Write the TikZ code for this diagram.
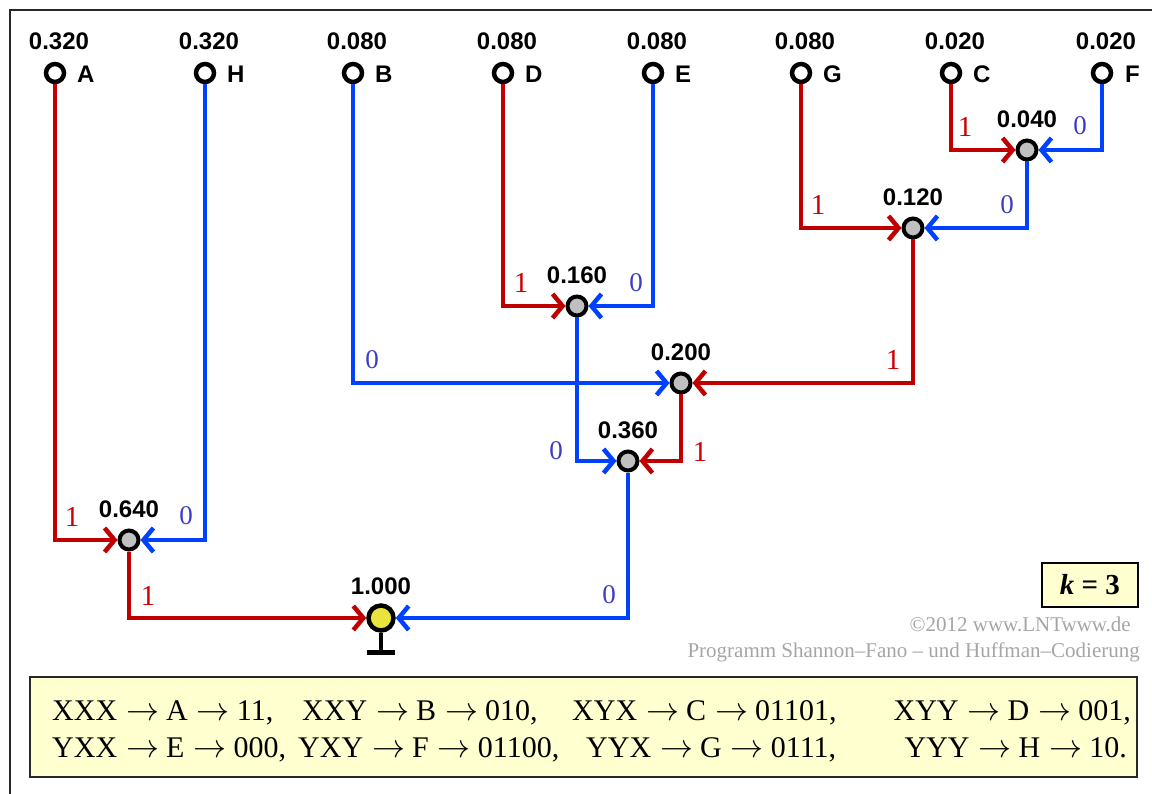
\documentclass[tikz,border=0pt]{standalone}
\usepackage{fontspec}
\setmainfont{Liberation Serif}
\newfontfamily\labfont{Liberation Sans}
\usetikzlibrary{arrows.meta}
\definecolor{edgered}{RGB}{192,0,0}
\definecolor{edgeblue}{RGB}{0,64,255}
\definecolor{lblred}{RGB}{204,0,0}
\definecolor{lblblue}{RGB}{60,60,200}
\definecolor{boxyellow}{RGB}{255,255,208}
\definecolor{rootyellow}{RGB}{232,228,60}
\definecolor{copygray}{RGB}{165,165,165}
\definecolor{innergray}{RGB}{192,192,192}
\definecolor{framegray}{RGB}{40,40,40}
\newcommand\codearrow{\hspace{9pt}\resizebox{33pt}{!}{$\rightarrow$}\hspace{7pt}}
\begin{document}
\begin{tikzpicture}[x=1pt,y=-1pt,
  leaf/.style={circle,draw=black,line width=4.5pt,fill=white,minimum size=18pt,inner sep=0pt},
  innernode/.style={circle,draw=black,line width=4pt,fill=innergray,minimum size=19pt,inner sep=0pt},
  rootnode/.style={circle,draw=black,line width=4.5pt,fill=rootyellow,minimum size=25pt,inner sep=0pt},
  prob/.style={font=\labfont\bfseries\fontsize{24}{28}\selectfont,inner sep=0pt},
  sym/.style={font=\labfont\bfseries\fontsize{24}{28}\selectfont,inner sep=0pt,anchor=west},
  onelbl/.style={text=lblred,font=\fontsize{29}{32}\selectfont,inner sep=0pt},
  zerolbl/.style={text=lblblue,font=\fontsize{27}{32}\selectfont,inner sep=0pt},
  redge/.style={draw=edgered,line width=4.5pt,-{Straight Barb[length=10pt,width=24pt]}},
  bedge/.style={draw=edgeblue,line width=4.5pt,-{Straight Barb[length=10pt,width=24pt]}},
  code/.style={font=\fontsize{30}{34}\selectfont,inner sep=0pt,anchor=base west},
  codeend/.style={font=\fontsize{30}{34}\selectfont,inner sep=0pt,anchor=base east},
  copyline/.style={text=copygray,font=\fontsize{21}{24}\selectfont,inner sep=0pt,anchor=base east}
]
\useasboundingbox (0,0) rectangle (1152,794);
% frame
\draw[framegray,line width=2.5pt] (10,820) -- (10,10) -- (1170,10);

% leaves
\node[leaf] (A) at (55,73) {};
\node[leaf] (H) at (205,73) {};
\node[leaf] (B) at (353,73) {};
\node[leaf] (D) at (503,73) {};
\node[leaf] (E) at (653,73) {};
\node[leaf] (G) at (801,73) {};
\node[leaf] (C) at (951,73) {};
\node[leaf] (F) at (1102,73) {};

\node[prob] (pA) at (59,41) {0.320};
\node[prob] (pH) at (209,41) {0.320};
\node[prob] (pB) at (357,41) {0.080};
\node[prob] (pD) at (507,41) {0.080};
\node[prob] (pE) at (657,41) {0.080};
\node[prob] (pG) at (805,41) {0.080};
\node[prob] (pC) at (955,41) {0.020};
\node[prob] (pF) at (1106,41) {0.020};

\node[sym] (sA) at (77,74) {A};
\node[sym] (sH) at (227,74) {H};
\node[sym] (sB) at (375,74) {B};
\node[sym] (sD) at (525,74) {D};
\node[sym] (sE) at (675,74) {E};
\node[sym] (sG) at (823,74) {G};
\node[sym] (sC) at (973,74) {C};
\node[sym] (sF) at (1125,74) {F};

% inner nodes
\node[innernode] (n040) at (1027,150) {};
\node[innernode] (n120) at (913,228) {};
\node[innernode] (n160) at (577,306) {};
\node[innernode] (n200) at (681,383) {};
\node[innernode] (n360) at (628,461) {};
\node[innernode] (n640) at (129,540) {};
\node[rootnode] (root) at (381,618) {};

\node[prob] (p040) at (1027,119) {0.040};
\node[prob] (p120) at (913,197) {0.120};
\node[prob] (p160) at (577,275) {0.160};
\node[prob] (p200) at (681,352) {0.200};
\node[prob] (p360) at (628,430) {0.360};
\node[prob] (p640) at (129,509) {0.640};
\node[prob] (p1000) at (381,586) {1.000};

% ground symbol
\draw[line width=4pt] (root.south) -- ++(0,20) coordinate (gnd);
\draw[line width=5pt] ([xshift=-14pt]gnd) -- ([xshift=14pt]gnd);

% edges
\draw[redge] (C) |- (n040);
\draw[bedge] (F) |- (n040);
\draw[redge] (G) |- (n120);
\draw[bedge] (n040) |- (n120);
\draw[redge] (D) |- (n160);
\draw[bedge] (E) |- (n160);
\draw[bedge] (B) |- (n200);
\draw[redge] (n120) |- (n200);
\draw[bedge] (n160) |- (n360);
\draw[redge] (n200) |- (n360);
\draw[redge] (A) |- (n640);
\draw[bedge] (H) |- (n640);
\draw[redge] (n640) |- (root);
\draw[bedge] (n360) |- (root);

% edge labels
\node[onelbl] (l1) at (965,127) {1};
\node[zerolbl] (l2) at (1080,126) {0};
\node[onelbl] (l3) at (818,205) {1};
\node[zerolbl] (l4) at (1007,205) {0};
\node[onelbl] (l5) at (521,283) {1};
\node[zerolbl] (l6) at (636,283) {0};
\node[zerolbl] (l7) at (372,360) {0};
\node[onelbl] (l8) at (893,360) {1};
\node[zerolbl] (l9) at (556,451) {0};
\node[onelbl] (l10) at (700,452) {1};
\node[onelbl] (l11) at (72,517) {1};
\node[zerolbl] (l12) at (186,516) {0};
\node[onelbl] (l13) at (148,596) {1};
\node[zerolbl] (l14) at (609,595) {0};

% k = 3 box
\node[draw=black,line width=2pt,fill=boxyellow,minimum width=96pt,minimum height=44pt,inner sep=0pt,
  font=\bfseries\fontsize{29}{32}\selectfont] (kbox) at (1090,585) {\textit{k} = 3};

% copyright
\node[copyline] (cp1) at (1131,631) {©2012 www.LNTwww.de};
\node[copyline] (cp2) at (1140,657) {Programm Shannon–Fano – und Huffman–Codierung};

% result box
\draw[draw=framegray,line width=2pt,fill=boxyellow] (30,677) rectangle (1137,777);
\node[code] (c1) at (52,720) {XXX\codearrow A\codearrow 11,};
\node[code] (c2) at (302,720) {XXY\codearrow B\codearrow 010,};
\node[code] (c3) at (572,720) {XYX\codearrow C\codearrow 01101,};
\node[codeend] (c4) at (1131,720) {XYY\codearrow D\codearrow 001,};
\node[code] (c5) at (52,757) {YXX\codearrow E\codearrow 000,};
\node[code] (c6) at (298,757) {YXY\codearrow F\codearrow 01100,};
\node[code] (c7) at (586,757) {YYX\codearrow G\codearrow 0111,};
\node[codeend] (c8) at (1127,757) {YYY\codearrow H\codearrow 10.};
\end{tikzpicture}
\end{document}
